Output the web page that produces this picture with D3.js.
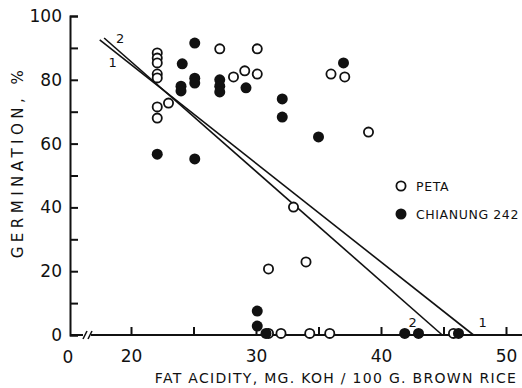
<!DOCTYPE html>
<html>
<head>
<meta charset="utf-8">
<script src="https://cdn.jsdelivr.net/npm/d3@7"></script>
<style>
  body { margin: 0; background: #fff; }
  text { font-family: "DejaVu Sans", sans-serif; fill: #111; }
</style>
</head>
<body>
<script>
//data
var peta = [
  [22.1, 88.4], [22.1, 86.8], [22.1, 85.3], [22.1, 81.8], [22.1, 80.6],
  [22.1, 71.5], [22.1, 68.0], [23.0, 72.7], [27.1, 89.7], [30.1, 89.7],
  [28.2, 80.9], [29.1, 82.8], [30.1, 81.8], [36.0, 81.8], [37.1, 80.9],
  [39.0, 63.6], [33.0, 40.1], [31.0, 20.7], [34.0, 22.9],
  [31.0, 0.5], [32.0, 0.5], [34.3, 0.5], [35.9, 0.5], [45.8, 0.5]
];
var chianung = [
  [25.1, 91.5], [24.1, 85.0], [24.0, 78.0], [24.0, 76.5], [25.1, 80.5],
  [25.1, 79.0], [27.1, 80.0], [27.1, 78.0], [27.1, 76.2], [29.2, 77.5],
  [37.0, 85.3], [32.1, 74.0], [32.1, 68.3], [35.0, 62.1], [22.1, 56.7],
  [25.1, 55.2], [30.1, 7.5], [30.1, 2.8], [30.8, 0.5],
  [41.9, 0.5], [43.0, 0.5], [46.2, 0.5]
];
var regLines = [
  { id: "1", pts: [[17.5, 92.5], [47.4, 0]] },
  { id: "2", pts: [[17.85, 93.1], [44.9, 0]] }
];
var xTicks = [20, 25, 30, 35, 40, 45, 50];
var yTicks = [0, 10, 20, 30, 40, 50, 60, 70, 80, 90, 100];

var W = 522, H = 388;

//scales
var x = d3.scaleLinear().domain([20, 50]).range([131, 506]);
var y = d3.scaleLinear().domain([0, 100]).range([335, 16]);
var x0 = x.invert(70);

var svg = d3.select("body").append("svg")
  .attr("width", W).attr("height", H);

//x axis (ticks inward, broken near origin)
var xAxis = svg.append("g")
  .attr("transform", "translate(0," + y(0) + ")")
  .call(d3.axisBottom(x).tickValues(xTicks).tickSize(-8).tickPadding(15)
    .tickFormat(function (d) { return d % 10 === 0 ? d : ""; }));
xAxis.select(".domain").remove();
xAxis.selectAll(".tick line").attr("stroke", "#111").attr("stroke-width", 2);
xAxis.selectAll(".tick text").style("font-size", "17px").attr("fill", "#111");

svg.append("line")
  .attr("x1", x(x0)).attr("x2", x(x0) + 13)
  .attr("y1", y(0)).attr("y2", y(0))
  .attr("stroke", "#111").attr("stroke-width", 2);
svg.append("line")
  .attr("x1", x(x0) + 21).attr("x2", W)
  .attr("y1", y(0)).attr("y2", y(0))
  .attr("stroke", "#111").attr("stroke-width", 2);
[0, 5].forEach(function (o) {
  svg.append("line")
    .attr("x1", x(x0) + 13 + o).attr("x2", x(x0) + 17 + o)
    .attr("y1", y(0) + 4).attr("y2", y(0) - 4)
    .attr("stroke", "#111").attr("stroke-width", 1.5);
});
svg.append("text")
  .attr("x", x(x0) - 2).attr("y", y(0) + 28)
  .attr("text-anchor", "middle")
  .style("font-size", "17px")
  .text("0");

//y axis
var yAxis = svg.append("g")
  .attr("transform", "translate(" + x(x0) + ",0)")
  .call(d3.axisLeft(y).tickValues(yTicks).tickSize(-8).tickPadding(8)
    .tickFormat(function (d) { return d % 20 === 0 ? d : ""; }));
yAxis.select(".domain").attr("stroke", "#111").attr("stroke-width", 2);
yAxis.selectAll(".tick line").attr("stroke", "#111").attr("stroke-width", 2);
yAxis.selectAll(".tick text").style("font-size", "17px").attr("fill", "#111");

//axis titles
svg.append("text")
  .attr("transform", "translate(23," + 162 + ") rotate(-90)")
  .attr("text-anchor", "middle")
  .style("font-size", "15px").style("letter-spacing", "4.5px")
  .text("GERMINATION, %");
svg.append("text")
  .attr("x", 336).attr("y", 383)
  .attr("text-anchor", "middle")
  .style("font-size", "14px").style("letter-spacing", "1.3px")
  .text("FAT ACIDITY, MG. KOH / 100 G. BROWN RICE");

//regression lines
var line = d3.line()
  .x(function (d) { return x(d[0]); })
  .y(function (d) { return y(d[1]); });
svg.append("g").selectAll("path")
  .data(regLines)
  .enter().append("path")
  .attr("d", function (d) { return line(d.pts); })
  .attr("fill", "none").attr("stroke", "#111").attr("stroke-width", 1.6);

//line labels
svg.append("text").attr("x", x(18.8)).attr("y", y(91.5)).style("font-size", "13px").text("2");
svg.append("text").attr("x", x(18.2)).attr("y", y(84)).style("font-size", "13px").text("1");
svg.append("text").attr("x", x(42.2)).attr("y", y(2.5)).style("font-size", "13px").text("2");
svg.append("text").attr("x", x(47.8)).attr("y", y(2.5)).style("font-size", "13px").text("1");

//points
svg.append("g").selectAll("circle")
  .data(peta)
  .enter().append("circle")
  .attr("cx", function (d) { return x(d[0]); })
  .attr("cy", function (d) { return y(d[1]); })
  .attr("r", 4.6)
  .attr("fill", "#fff").attr("stroke", "#111").attr("stroke-width", 1.8);
svg.append("g").selectAll("circle")
  .data(chianung)
  .enter().append("circle")
  .attr("cx", function (d) { return x(d[0]); })
  .attr("cy", function (d) { return y(d[1]); })
  .attr("r", 5.5)
  .attr("fill", "#111");

//legend
var legend = svg.append("g");
legend.append("circle").attr("cx", 401).attr("cy", 186).attr("r", 4.6)
  .attr("fill", "#fff").attr("stroke", "#111").attr("stroke-width", 1.8);
legend.append("text").attr("x", 416).attr("y", 191)
  .style("font-size", "12.5px").style("letter-spacing", "0.6px").text("PETA");
legend.append("circle").attr("cx", 401).attr("cy", 214).attr("r", 5.5)
  .attr("fill", "#111");
legend.append("text").attr("x", 416).attr("y", 219)
  .style("font-size", "12.5px").style("letter-spacing", "0.6px").text("CHIANUNG 242");
</script>
</body>
</html>
